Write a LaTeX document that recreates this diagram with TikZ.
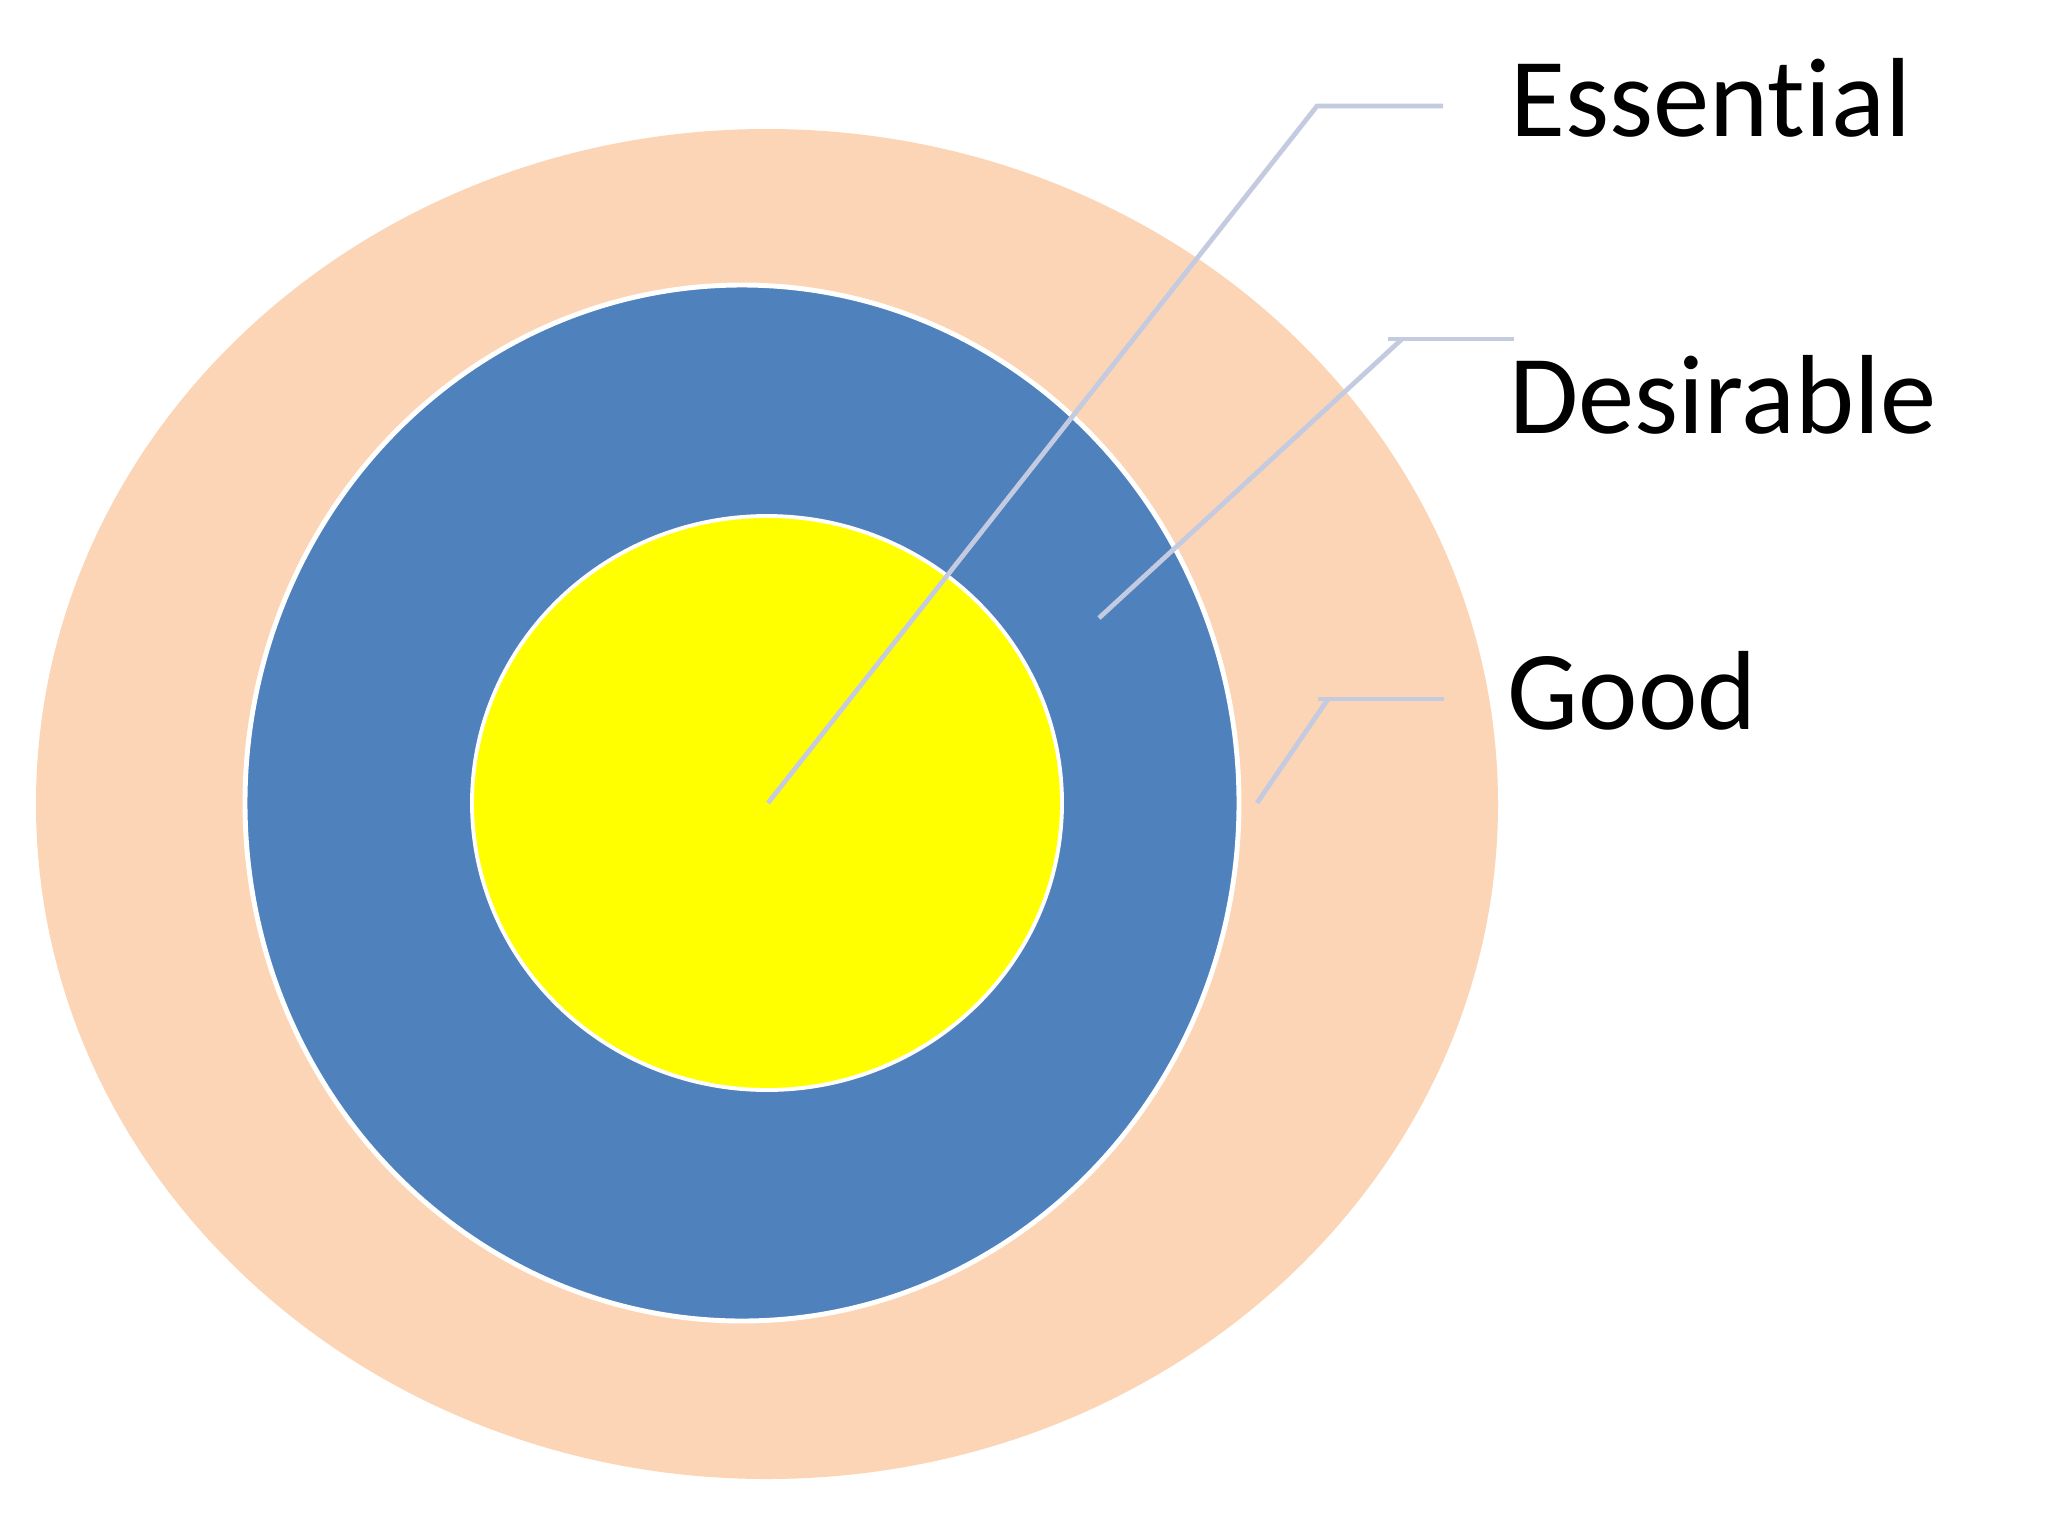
\documentclass[tikz,border=0pt]{standalone}
\usepackage{fontspec}
\setmainfont[Ligatures=NoCommon]{Carlito}
\definecolor{peach}{RGB}{251,213,181}
\definecolor{ringblue}{RGB}{79,129,189}
\definecolor{core}{RGB}{255,255,0}
\definecolor{leader}{RGB}{196,203,224}
\tikzset{
  ring/.style={draw=white},
  leaderline/.style={draw=leader, line width=1.35pt},
  label/.style={anchor=base west, inner sep=0pt, font=\fontsize{32}{38}\selectfont, text=black}
}
\begin{document}
\begin{tikzpicture}[x=0.01cm, y=-0.01cm]
\useasboundingbox (0,0) rectangle (2048,1536);
\fill[white] (0,0) rectangle (2048,1536);
% rings
\fill[peach] (767,804) ellipse [x radius=731, y radius=675];
\filldraw[fill=ringblue, ring, line width=1.4pt] (742,803) ellipse [x radius=497, y radius=518];
\filldraw[fill=core, ring, line width=1.1pt] (767,803) ellipse [x radius=295, y radius=287];
% anchor points
\coordinate (eS) at (768,803);
\coordinate (eK) at (1317,106);
\coordinate (eE) at (1443,106);
\coordinate (dS) at (1099,618);
\coordinate (dK) at (1402,339);
\coordinate (dH) at (1388,339);
\coordinate (dE) at (1514,339);
\coordinate (gS) at (1257,803);
\coordinate (gK) at (1328,699);
\coordinate (gH) at (1318,699);
\coordinate (gE) at (1444,699);
% leader lines
\draw[leaderline] (eS) -- (eK) -- (eE);
\draw[leaderline] (dS) -- (dK);
\draw[leaderline] (dH) -- (dE);
\draw[leaderline] (gS) -- (gK);
\draw[leaderline] (gH) -- (gE);
% labels
\node[label] (ess) at (1510,136) {Essential};
\node[label] (des) at (1509,433) {Desirable};
\node[label] (good) at (1507,729) {Good};
\end{tikzpicture}
\end{document}
